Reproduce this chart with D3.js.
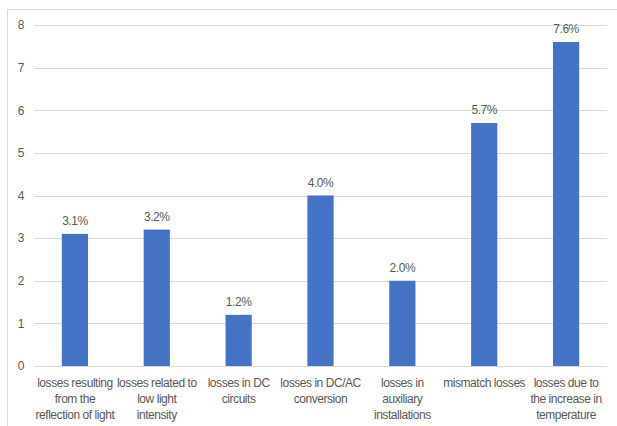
<!DOCTYPE html>
<html>
<head>
<meta charset="utf-8">
<script src="https://cdn.jsdelivr.net/npm/d3@7"></script>
<style>
  html, body { margin: 0; padding: 0; background: #fff; }
  svg text { font-family: "Liberation Sans", Arial, sans-serif; fill: #595959; letter-spacing: -0.45px; }
</style>
</head>
<body>
<svg id="chart" width="617" height="426"></svg>
<script>
// Loss categories (line breaks mark the wrapped axis labels)
const categories = [
  "losses resulting\nfrom the\nreflection of light",
  "losses related to\nlow light\nintensity",
  "losses in DC\ncircuits",
  "losses in DC/AC\nconversion",
  "losses in\nauxiliary\ninstallations",
  "mismatch losses",
  "losses due to\nthe increase in\ntemperature"
];
const lossValues = [3.1, 3.2, 1.2, 4.0, 2.0, 5.7, 7.6];
const yTicks = [0, 1, 2, 3, 4, 5, 6, 7, 8];

const svg = d3.select("#chart");

// Chart frame
svg.append("rect")
  .attr("x", 7.5).attr("y", 9.5)
  .attr("width", 620).attr("height", 430)
  .attr("fill", "none").attr("stroke", "#d9d9d9");

const plot = { left: 34, right: 607, top: 25, bottom: 366 };

const x = d3.scaleBand()
  .domain(d3.range(categories.length))
  .range([plot.left, plot.right])
  .paddingInner(0.68).paddingOuter(0.34);

const y = d3.scaleLinear()
  .domain([0, 8])
  .range([plot.bottom, plot.top]);

// Horizontal gridlines
svg.append("g")
  .selectAll("line")
  .data(yTicks)
  .join("line")
  .attr("x1", plot.left).attr("x2", plot.right)
  .attr("y1", d => Math.round(y(d)) + 0.5)
  .attr("y2", d => Math.round(y(d)) + 0.5)
  .attr("stroke", "#d9d9d9").attr("stroke-width", 1);

// Y axis labels
const yAxis = d3.axisLeft(y).tickValues(yTicks).tickSize(0).tickPadding(0);
const yg = svg.append("g")
  .attr("transform", `translate(${plot.left - 10},0)`)
  .call(yAxis);
yg.select(".domain").remove();
yg.selectAll("text")
  .attr("font-size", 12)
  .attr("fill", "#595959");

// Bars
svg.append("g")
  .selectAll("rect")
  .data(lossValues)
  .join("rect")
  .attr("x", (d, i) => x(i))
  .attr("width", x.bandwidth())
  .attr("y", d => y(d))
  .attr("height", d => y(0) - y(d))
  .attr("fill", "#4472c4");

// Value labels
svg.append("g")
  .selectAll("text")
  .data(lossValues)
  .join("text")
  .attr("x", (d, i) => x(i) + x.bandwidth() / 2)
  .attr("y", d => y(d) - 9)
  .attr("text-anchor", "middle")
  .attr("font-size", 12)
  .text(d => d.toFixed(1) + "%");

// Category labels
const catG = svg.append("g")
  .selectAll("text")
  .data(categories)
  .join("text")
  .attr("text-anchor", "middle")
  .attr("font-size", 12)
  .attr("x", (d, i) => x(i) + x.bandwidth() / 2)
  .attr("y", 387);
catG.selectAll("tspan")
  .data(d => d.split("\n"))
  .join("tspan")
  .attr("x", function () { return this.parentNode.getAttribute("x"); })
  .attr("dy", (d, i) => i === 0 ? 0 : 16)
  .text(d => d);
</script>
</body>
</html>
